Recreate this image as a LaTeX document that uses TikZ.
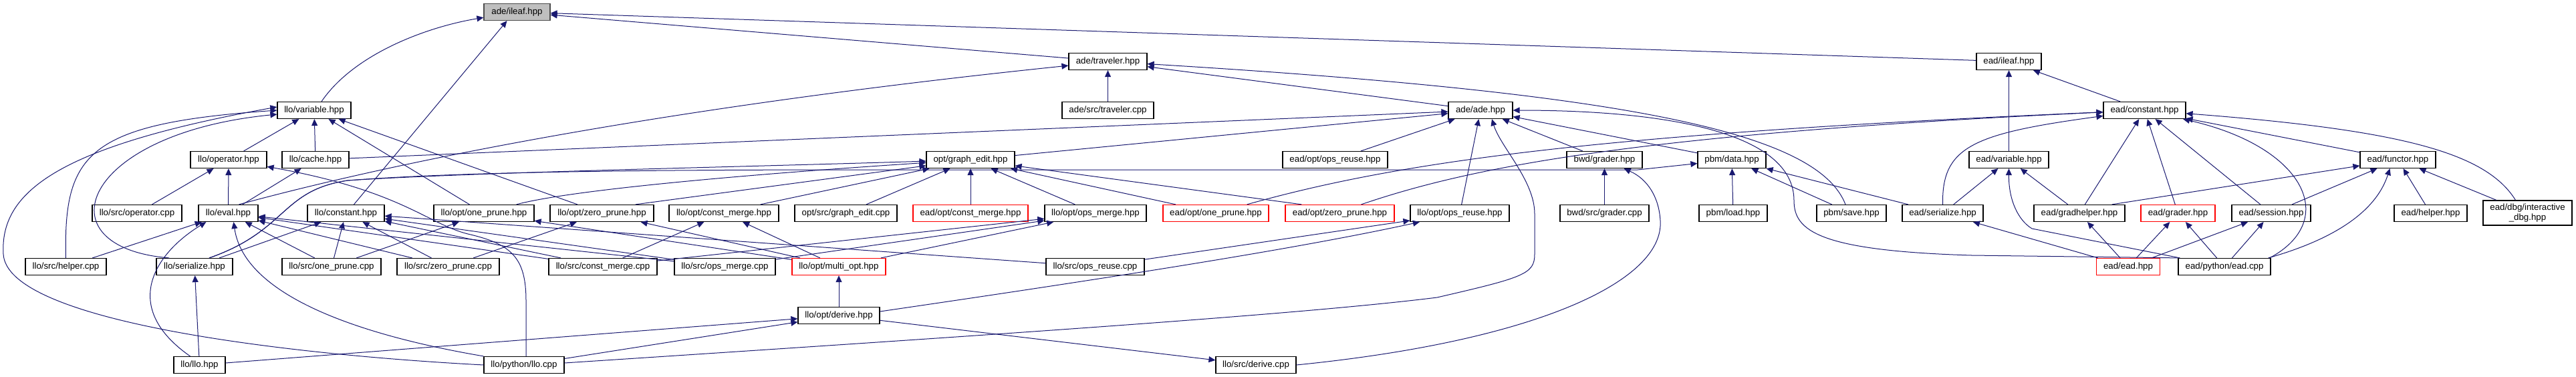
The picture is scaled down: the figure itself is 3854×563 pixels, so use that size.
\documentclass[tikz,border=0pt]{standalone}
\usepackage{fontspec}
\setmainfont{Liberation Sans}
\usetikzlibrary{arrows.meta,calc}
\definecolor{edgeblue}{HTML}{191970}
\begin{document}
\begin{tikzpicture}[x=0.5pt,y=-0.5pt,
 nd/.style={draw=black,line width=0.6pt,fill=white,inner sep=0pt,minimum height=12.5pt,font=\fontsize{6.65}{7.6}\selectfont},
 rnd/.style={nd,draw=red},
 root/.style={nd,fill=black!25,draw=black!70},
 edge/.style={draw=edgeblue,line width=0.5pt,-{Triangle[length=5pt,width=4.5pt]}}]
\useasboundingbox (0,0) rectangle (3854,563);
% row 0
\node[root,minimum width=49.5pt] (aileaf) at (773.5,18) {ade/ileaf.hpp};
% row 1
\node[nd,minimum width=58.5pt] (trav) at (1657.5,92) {ade/traveler.hpp};
\node[nd,minimum width=48.5pt] (eileaf) at (3005.5,92) {ead/ileaf.hpp};
% row 2
\node[nd,minimum width=55pt] (lvar) at (470,165) {llo/variable.hpp};
\node[nd,minimum width=68.5pt] (travcpp) at (1657.5,165) {ade/src/traveler.cpp};
\node[nd,minimum width=48pt] (ade) at (2215,165) {ade/ade.hpp};
\node[nd,minimum width=61.5pt] (econst) at (3208.5,165) {ead/constant.hpp};
% row 3
\node[nd,minimum width=57pt] (lop) at (342,239) {llo/operator.hpp};
\node[nd,minimum width=50pt] (lcache) at (472,239) {llo/cache.hpp};
\node[nd,minimum width=66pt] (gedit) at (1452,239) {opt/graph\_edit.hpp};
\node[nd,minimum width=78.5pt] (eopsreuse) at (1997.5,239) {ead/opt/ops\_reuse.hpp};
\node[nd,minimum width=56.5pt] (bgrader) at (2400.5,239) {bwd/grader.hpp};
\node[nd,minimum width=51pt] (pdata) at (2591,239) {pbm/data.hpp};
\node[nd,minimum width=59.5pt] (evar) at (3005.5,239) {ead/variable.hpp};
\node[nd,minimum width=56.5pt] (efunc) at (3587.5,239) {ead/functor.hpp};
% row 4
\node[nd,minimum width=67pt] (lopcpp) at (205,319) {llo/src/operator.cpp};
\node[nd,minimum width=44.5pt] (leval) at (341.5,319) {llo/eval.hpp};
\node[nd,minimum width=57.5pt] (lconst) at (517.5,319) {llo/constant.hpp};
\node[nd,minimum width=75pt] (lonep) at (724,319) {llo/opt/one\_prune.hpp};
\node[nd,minimum width=77.5pt] (lzerop) at (900.5,319) {llo/opt/zero\_prune.hpp};
\node[nd,minimum width=82pt] (lcm) at (1083,319) {llo/opt/const\_merge.hpp};
\node[nd,minimum width=76.5pt] (gecpp) at (1265.5,319) {opt/src/graph\_edit.cpp};
\node[rnd,minimum width=86pt] (ecm) at (1452,319) {ead/opt/const\_merge.hpp};
\node[nd,minimum width=76pt] (lom) at (1639,319) {llo/opt/ops\_merge.hpp};
\node[rnd,minimum width=79pt] (eonep) at (1819,319) {ead/opt/one\_prune.hpp};
\node[rnd,minimum width=81.5pt] (ezerop) at (2004.5,319) {ead/opt/zero\_prune.hpp};
\node[nd,minimum width=74pt] (lor) at (2184,319) {llo/opt/ops\_reuse.hpp};
\node[nd,minimum width=66.5pt] (bgcpp) at (2400.5,319) {bwd/src/grader.cpp};
\node[nd,minimum width=51pt] (pload) at (2593,319) {pbm/load.hpp};
\node[nd,minimum width=52pt] (psave) at (2770,319) {pbm/save.hpp};
\node[nd,minimum width=60.5pt] (eser) at (2906.5,319) {ead/serialize.hpp};
\node[nd,minimum width=68pt] (egh) at (3111,319) {ead/gradhelper.hpp};
\node[rnd,minimum width=55.5pt] (egr) at (3258.5,319) {ead/grader.hpp};
\node[nd,minimum width=59pt] (esess) at (3398,319) {ead/session.hpp};
\node[nd,minimum width=54.5pt] (ehelp) at (3636.5,319) {ead/helper.hpp};
\node[nd,minimum width=66.5pt,minimum height=18.5pt,align=center] (edbg) at (3781.5,318.5) {ead/dbg/interactive\\\_dbg.hpp};
% row 5
\node[nd,minimum width=60.5pt] (lhelp) at (98.5,399) {llo/src/helper.cpp};
\node[nd,minimum width=57pt] (lser) at (291,399) {llo/serialize.hpp};
\node[nd,minimum width=74pt] (l1cpp) at (496,399) {llo/src/one\_prune.cpp};
\node[nd,minimum width=76.5pt] (l0cpp) at (670.5,399) {llo/src/zero\_prune.cpp};
\node[nd,minimum width=81pt] (lcmcpp) at (902,399) {llo/src/const\_merge.cpp};
\node[nd,minimum width=75.5pt] (lomcpp) at (1084.5,399) {llo/src/ops\_merge.cpp};
\node[rnd,minimum width=70pt] (lmulti) at (1255,399) {llo/opt/multi\_opt.hpp};
\node[nd,minimum width=73.5pt] (lorcpp) at (1638.5,399) {llo/src/ops\_reuse.cpp};
\node[rnd,minimum width=47.5pt] (eead) at (3184,399) {ead/ead.hpp};
\node[nd,minimum width=69pt] (eadcpp) at (3328,399) {ead/python/ead.cpp};
% row 6
\node[nd,minimum width=61pt] (lderive) at (1255,472) {llo/opt/derive.hpp};
% row 7
\node[nd,minimum width=38.5pt] (llo) at (298.5,546) {llo/llo.hpp};
\node[nd,minimum width=60pt] (llocpp) at (784,546) {llo/python/llo.cpp};
\node[nd,minimum width=60pt] (dercpp) at (1879,546) {llo/src/derive.cpp};

% ---- edges into ade/ileaf.hpp
\draw[edge] ($(lvar.north)+(11,0)$) .. controls (530,80) and (640,40) .. (aileaf);
\draw[edge] ($(lconst.north)+(12,0)$) -- ($(aileaf.south)+(-15,0)$);
\draw[edge] (trav) -- (aileaf);
\draw[edge] (eileaf) -- (aileaf);
% ---- llo/variable.hpp
\draw[edge] (lop) -- (lvar);
\draw[edge] (lcache) -- (lvar);
\draw[edge] (lonep) -- (lvar);
\draw[edge] (lzerop) -- (lvar);
\draw[edge] (lhelp.north) .. controls (95,230) and (130,185) .. (lvar.west);
\draw[edge] ($(lser.north)+(-38,0)$) .. controls (60,370) and (120,200) .. ($(lvar.west)+(0,6)$);
\draw[edge] (llocpp.west) .. controls (420,530) and (10,480) .. (5,380) .. controls (0,290) and (80,220) .. ($(lvar.west)+(0,-5)$);
% ---- llo/operator.hpp, cache
\draw[edge] (lopcpp) -- (lop);
\draw[edge] (leval) -- (lop);
\draw[edge] ($(llocpp.north)+(3,0)$) -- (787,450) .. controls (787,385) and (765,365) .. (700,350) .. controls (640,335) and (600,285) .. (lop);
\draw[edge] (leval) -- (lcache);
% ---- ade/traveler.hpp
\draw[edge] ($(leval.north)+(16,0)$) .. controls (600,240) and (1000,160) .. (trav);
\draw[edge] (ade) -- (trav);
\draw[edge] (travcpp) -- (trav);
\draw[edge] ($(psave.north)+(-9,0)$) .. controls (2720,200) and (2450,140) .. (trav);
% ---- ade/ade.hpp
\draw[edge] (lcache) -- (ade);
\draw[edge] (gedit) -- (ade);
\draw[edge] (eopsreuse) -- (ade);
\draw[edge] (lor) -- (ade);
\draw[edge] (bgrader) -- (ade);
\draw[edge] (pdata) -- (ade);
\draw[edge] ($(llocpp.east)+(0,-3)$) .. controls (1500,500) and (1950,470) .. (2150,445) .. controls (2280,415) and (2296,410) .. (2296,380) -- (2296,320) .. controls (2296,270) and (2245,220) .. ($(ade.south)+(17,0)$);
\draw[edge] (eadcpp.north west) -- (2950,382) .. controls (2720,375) and (2684,345) .. (2684,300) .. controls (2684,200) and (2500,165) .. (ade);
% ---- opt/graph_edit.hpp
\draw[edge] ($(lser.north)+(22,0)$) .. controls (430,345) and (420,285) .. (520,270) .. controls (700,258) and (1100,250) .. (gedit);
\draw[edge] ($(lonep.north east)+(-27,0)$) .. controls (850,285) and (1100,262) .. (gedit);
\draw[edge] ($(lzerop.north east)+(-28,0)$) -- (gedit);
\draw[edge] ($(lcm.north east)+(-28,0)$) -- (gedit);
\draw[edge] (gecpp) -- (gedit);
\draw[edge] (ecm) -- (gedit);
\draw[edge] (lom) -- (gedit);
\draw[edge] (eonep) -- (gedit);
\draw[edge] ($(ezerop.north west)+(25,0)$) -- (gedit);
% ---- pbm/data.hpp
\draw[edge] ($(lser.north)+(22,0)$) .. controls (430,345) and (420,285) .. (520,270) .. controls (700,256) and (1000,254) .. (1300,254) -- (2450,254) -- (pdata);
\draw[edge] (pload) -- (pdata);
\draw[edge] (psave) -- (pdata);
\draw[edge] (eser) -- (pdata);
% ---- bwd/grader.hpp
\draw[edge] (bgcpp) -- (bgrader);
\draw[edge] (dercpp.east) .. controls (2300,510) and (2490,420) .. (2484,330) .. controls (2482,295) and (2465,268) .. (bgrader);
% ---- ead/ileaf.hpp, ead/constant.hpp
\draw[edge] (evar) -- (eileaf);
\draw[edge] (econst) -- (eileaf);
\draw[edge] ($(eonep.north east)+(-33,0)$) .. controls (2100,240) and (2400,200) .. (econst);
\draw[edge] ($(ezerop.north)+(32,0)$) .. controls (2200,250) and (2450,200) .. (econst);
\draw[edge] (eser.north) .. controls (2905,220) and (2950,200) .. (econst);
\draw[edge] (egh) -- (econst);
\draw[edge] (egr) -- (econst);
\draw[edge] (esess) -- (econst);
\draw[edge] (efunc) -- (econst);
\draw[edge] ($(eadcpp.north east)+(-2,0)$) .. controls (3500,330) and (3450,220) .. (econst);
\draw[edge] ($(edbg.north)+(-18,0)$) .. controls (3720,230) and (3600,195) .. (econst);
% ---- ead/variable.hpp
\draw[edge] (eser) -- (evar);
\draw[edge] (egh) -- (evar);
\draw[edge] ($(eadcpp.north west)+(3,0)$) -- (3040,342) .. controls (3020,330) and (3005,300) .. (evar.south);
% ---- ead/functor.hpp
\draw[edge] ($(egh.north east)+(-20,0)$) -- (efunc);
\draw[edge] (esess) -- (efunc);
\draw[edge] ($(eadcpp.north east)+(-4,0)$) .. controls (3520,350) and (3560,300) .. ($(efunc.south)+(-12,0)$);
\draw[edge] (ehelp) -- (efunc);
\draw[edge] (edbg) -- (efunc);
% ---- ead row 4 from ead.hpp / ead.cpp
\draw[edge] (eead) -- (eser);
\draw[edge] (eead) -- (egh);
\draw[edge] (eead) -- (egr);
\draw[edge] (eead) -- (esess);
\draw[edge] (eadcpp) -- (egr);
\draw[edge] (eadcpp) -- (esess);
% ---- llo/eval.hpp
\draw[edge] (lhelp) -- (leval);
\draw[edge] ($(llo.north)+(-14,0)$) .. controls (180,460) and (230,380) .. ($(leval.south west)+(12,0)$);
\draw[edge] (llocpp.north west) .. controls (530,500) and (365,440) .. ($(leval.south)+(8,0)$);
\draw[edge] (l1cpp) -- (leval);
\draw[edge] (l0cpp) -- (leval);
\draw[edge] (lcmcpp) -- (leval);
\draw[edge] (lomcpp) -- (leval);
% ---- llo/constant.hpp
\draw[edge] (lser) -- (lconst);
\draw[edge] (l1cpp) -- (lconst);
\draw[edge] (l0cpp) -- (lconst);
\draw[edge] (lcmcpp) -- (lconst);
\draw[edge] (lomcpp) -- (lconst);
\draw[edge] (lorcpp) -- (lconst);
% ---- llo/opt/*
\draw[edge] (l1cpp) -- (lonep);
\draw[edge] (l0cpp) -- (lzerop);
\draw[edge] (lmulti) -- (lonep);
\draw[edge] (lmulti) -- (lzerop);
\draw[edge] (lmulti) -- (lcm);
\draw[edge] (lmulti) -- (lom);
\draw[edge] (lcmcpp) -- (lcm);
\draw[edge] (lcmcpp) -- (lom);
\draw[edge] (lomcpp) -- (lom);
\draw[edge] (lorcpp) -- (lor);
\draw[edge] ($(lderive.east)+(0,-6)$) .. controls (1700,410) and (1950,370) .. (lor);
\draw[edge] (lderive) -- (lmulti);
\draw[edge] (lderive) -- (dercpp);
% ---- bottom
\draw[edge] (llo) -- (lser);
\draw[edge] (llo) -- (lderive);
\draw[edge] (llocpp) -- (lderive);
\end{tikzpicture}
\end{document}
